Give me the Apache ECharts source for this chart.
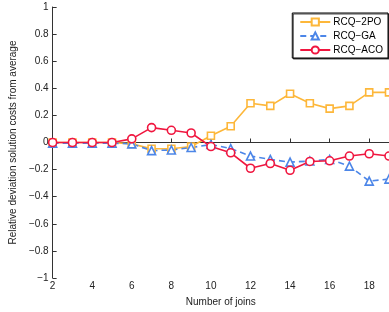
<!DOCTYPE html>
<html>
<head>
<meta charset="utf-8">
<script src="https://cdn.jsdelivr.net/npm/echarts@6/dist/echarts.min.js"></script>
<style>
  html, body { margin: 0; padding: 0; background: #fff; }
  #chart { width: 389px; height: 312px; }
</style>
</head>
<body>
<div id="chart"></div>
<script>
// number of joins
var joins = [2, 3, 4, 5, 6, 7, 8, 9, 10, 11, 12, 13, 14, 15, 16, 17, 18, 19];
var rcq2po = [0, 0, 0, 0, -0.01, -0.046, -0.046, -0.03, 0.05, 0.12, 0.29, 0.27, 0.36, 0.29, 0.25, 0.27, 0.37, 0.37];
var rcqGa = [-0.005, -0.005, -0.005, -0.005, -0.01, -0.06, -0.055, -0.037, -0.015, -0.045, -0.10, -0.125, -0.145, -0.137, -0.125, -0.174, -0.285, -0.27];
var rcqAco = [0, 0, 0, 0, 0.027, 0.11, 0.09, 0.07, -0.03, -0.076, -0.19, -0.155, -0.205, -0.14, -0.135, -0.10, -0.083, -0.10];
var seriesNames = ["RCQ\u22122PO", "RCQ\u2212GA", "RCQ\u2212ACO"];
var yTicks = [-1, -0.8, -0.6, -0.4, -0.2, 0, 0.2, 0.4, 0.6, 0.8, 1];

function pairs(vals) {
  return joins.map(function (j, i) { return [j, vals[i]]; });
}

var chart = echarts.init(document.getElementById("chart"));
var font = "Liberation Sans, Arial, sans-serif";

var option = {
  animation: false,
  textStyle: { fontFamily: font },
  grid: { left: 47, top: 7, right: -2, bottom: 33 },
  legend: {
    right: 1,
    top: 13,
    orient: "vertical",
    itemWidth: 30,
    itemHeight: 9,
    itemGap: 4,
    padding: [4, 5, 3, 7],
    backgroundColor: "#fff",
    borderColor: "#000",
    borderWidth: 1,
    shadowColor: "rgba(0,0,0,0.7)",
    shadowOffsetX: 1,
    shadowOffsetY: 1,
    textStyle: { fontSize: 10, color: "#000", fontFamily: font, padding: [0, 0, 0, -2] },
    data: seriesNames
  },
  xAxis: {
    type: "value",
    min: 2,
    max: 19,
    interval: 2,
    name: "Number of joins",
    nameLocation: "middle",
    nameGap: 19,
    nameTextStyle: { fontSize: 10, color: "#222" },
    axisLine: { lineStyle: { color: "#333", width: 1 } },
    axisTick: { inside: true, length: 4, lineStyle: { color: "#333" } },
    axisLabel: {
      fontSize: 10, color: "#222", margin: 3, showMaxLabel: false,
      formatter: function (v) { return v % 2 === 0 ? String(v) : ""; }
    },
    splitLine: { show: false }
  },
  yAxis: {
    type: "value",
    min: -1,
    max: 1,
    interval: 0.2,
    name: "Relative deviation solution costs from average",
    nameLocation: "middle",
    nameGap: 34,
    nameTextStyle: { fontSize: 10, color: "#222" },
    axisLine: { lineStyle: { color: "#333", width: 1 } },
    axisTick: { inside: true, length: 4, lineStyle: { color: "#333" } },
    axisLabel: {
      fontSize: 10, color: "#222", margin: 4,
      formatter: function (v) {
        var t = yTicks.reduce(function (a, b) { return Math.abs(b - v) < Math.abs(a - v) ? b : a; });
        return String(t).replace("-", "\u2212");
      }
    },
    splitLine: { show: false }
  },
  series: [
    {
      name: seriesNames[0],
      type: "line",
      data: pairs(rcq2po),
      symbol: "rect",
      symbolSize: 7,
      color: "#FDB73A",
      lineStyle: { width: 1.6, color: "#FDB73A" },
      itemStyle: { color: "#fff", borderColor: "#FDB73A", borderWidth: 1.6 }
    },
    {
      name: seriesNames[1],
      type: "line",
      data: pairs(rcqGa),
      symbol: "triangle",
      symbolSize: 8,
      color: "#4C86E8",
      lineStyle: { width: 1.6, color: "#4C86E8", type: [6, 4] },
      itemStyle: { color: "#fff", borderColor: "#4C86E8", borderWidth: 1.6 }
    },
    {
      name: seriesNames[2],
      type: "line",
      data: pairs(rcqAco),
      symbol: "circle",
      symbolSize: 8,
      color: "#F0163F",
      lineStyle: { width: 1.6, color: "#F0163F" },
      itemStyle: { color: "#fff", borderColor: "#F0163F", borderWidth: 1.6 }
    }
  ]
};

chart.setOption(option);
</script>
</body>
</html>
